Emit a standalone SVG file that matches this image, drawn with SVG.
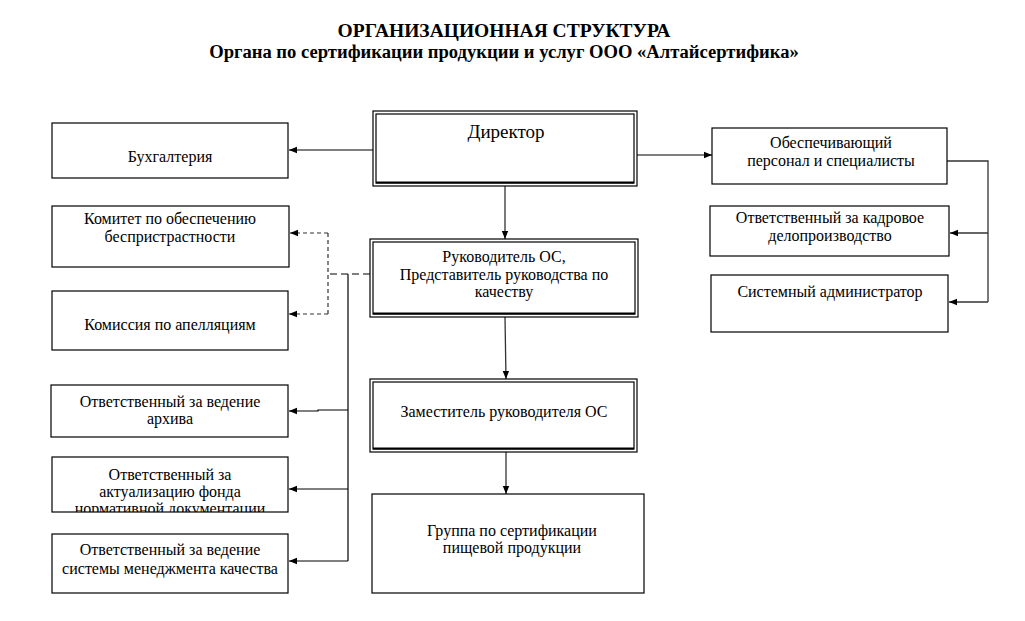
<svg xmlns="http://www.w3.org/2000/svg" width="1025" height="621" viewBox="0 0 1025 621">
<defs>
<style>
.t{font-family:"Liberation Serif","Times New Roman",serif;font-size:16px;fill:#000;text-anchor:middle}
.h{font-family:"Liberation Serif","Times New Roman",serif;font-size:18.6px;font-weight:bold;fill:#000;text-anchor:middle}
.b{fill:#fff;stroke:#000;stroke-width:1.2}
.c{fill:none;stroke:#000;stroke-width:1.2}
.g{fill:none;stroke:#333;stroke-width:1.3}
.d{fill:none;stroke:#333;stroke-width:1.2;stroke-dasharray:4,3}
.d2{fill:none;stroke:#000;stroke-width:1.2;stroke-dasharray:7,4}
</style>
<marker id="a" viewBox="0 0 10 10" refX="10" refY="5" markerWidth="8" markerHeight="8" markerUnits="userSpaceOnUse" orient="auto">
<path d="M0,1 L10,5 L0,9 z" fill="#000"/>
</marker>
<clipPath id="clipAkt"><rect x="52" y="457" width="236" height="55"/></clipPath>
</defs>
<rect width="1025" height="621" fill="#fff"/>
<g id="title">
<text class="h" x="504" y="37" style="font-size:19.5px">ОРГАНИЗАЦИОННАЯ СТРУКТУРА</text>
<text class="h" x="504" y="58">Органа по сертификации продукции и услуг ООО «Алтайсертифика»</text>
</g>
<g id="connectors">
<line class="c" x1="373" y1="150" x2="289" y2="150" marker-end="url(#a)"/>
<line class="c" x1="637" y1="155" x2="712" y2="155" marker-end="url(#a)"/>
<line class="g" x1="505" y1="186" x2="505" y2="239" marker-end="url(#a)"/>
<line class="g" x1="505" y1="317" x2="506" y2="379" marker-end="url(#a)"/>
<line class="g" x1="506" y1="452" x2="506" y2="494" marker-end="url(#a)"/>
<path class="d2" d="M370,274 L330,274"/>
<path class="d" d="M328,233 L328,314"/>
<line class="d" x1="328" y1="233" x2="290" y2="233" marker-end="url(#a)"/>
<line class="d" x1="328" y1="314" x2="289" y2="314" marker-end="url(#a)"/>
<path class="c" d="M348,274 L348,561"/>
<path class="c" d="M348,410 L318,410 L318,411 L289,411" marker-end="url(#a)"/>
<line class="c" x1="348" y1="489" x2="289" y2="489" marker-end="url(#a)"/>
<line class="c" x1="348" y1="561" x2="289" y2="561" marker-end="url(#a)"/>
<path class="g" d="M947,161 L988,161 L988,302"/>
<line class="g" x1="988" y1="233" x2="950" y2="233" marker-end="url(#a)"/>
<line class="g" x1="988" y1="302" x2="949" y2="302" marker-end="url(#a)"/>
</g>
<g id="director">
<rect class="b" x="373" y="111" width="264" height="75"/>
<rect x="376" y="114" width="258" height="69" fill="none" stroke="#000" stroke-width="1.2"/>
<line x1="376" y1="182.5" x2="634" y2="182.5" stroke="#000" stroke-width="2"/>
<text class="t" x="506" y="138" style="font-size:19px">Директор</text>
</g>
<g id="buh">
<rect class="b" x="52" y="123" width="236" height="55"/>
<text class="t" x="170" y="162">Бухгалтерия</text>
</g>
<g id="komitet">
<rect class="b" x="52" y="206" width="237" height="61"/>
<text class="t" x="170" y="224">Комитет по обеспечению</text>
<text class="t" x="170" y="242">беспристрастности</text>
</g>
<g id="komissiya">
<rect class="b" x="52" y="291" width="236" height="59"/>
<text class="t" x="170" y="330">Комиссия по апелляциям</text>
</g>
<g id="arhiv">
<rect class="b" x="51" y="385" width="237" height="52"/>
<text class="t" x="170" y="407">Ответственный за ведение</text>
<text class="t" x="170" y="424">архива</text>
</g>
<g id="aktual">
<rect class="b" x="52" y="457" width="236" height="55"/>
<g clip-path="url(#clipAkt)">
<text class="t" x="170" y="480">Ответственный за</text>
<text class="t" x="170" y="497">актуализацию фонда</text>
<text class="t" x="170" y="514">нормативной документации</text>
</g>
</g>
<g id="smk">
<rect class="b" x="52" y="534" width="236" height="59"/>
<text class="t" x="170" y="555">Ответственный за ведение</text>
<text class="t" x="170" y="574">системы менеджмента качества</text>
</g>
<g id="rukovoditel">
<rect class="b" x="370" y="239" width="268" height="78"/>
<rect x="373" y="242" width="262" height="72" fill="none" stroke="#000" stroke-width="1.2"/>
<line x1="373" y1="313.5" x2="635" y2="313.5" stroke="#000" stroke-width="2"/>
<text class="t" x="504" y="262">Руководитель ОС,</text>
<text class="t" x="504" y="280">Представитель руководства по</text>
<text class="t" x="504" y="297">качеству</text>
</g>
<g id="zamestitel">
<rect class="b" x="370" y="379" width="267" height="73"/>
<rect x="373" y="382" width="261" height="67" fill="none" stroke="#000" stroke-width="1.2"/>
<line x1="373" y1="448.5" x2="634" y2="448.5" stroke="#000" stroke-width="2"/>
<text class="t" x="504" y="417">Заместитель руководителя ОС</text>
</g>
<g id="gruppa">
<rect class="b" x="372" y="494" width="272" height="99"/>
<text class="t" x="512" y="536">Группа по сертификации</text>
<text class="t" x="512" y="553">пищевой продукции</text>
</g>
<g id="obesp">
<rect class="b" x="712" y="128" width="235" height="56"/>
<text class="t" x="831" y="148">Обеспечивающий</text>
<text class="t" x="831" y="166">персонал и специалисты</text>
</g>
<g id="kadry">
<rect class="b" x="710" y="206" width="239" height="50"/>
<text class="t" x="830" y="223">Ответственный за кадровое</text>
<text class="t" x="830" y="241">делопроизводство</text>
</g>
<g id="sysadmin">
<rect class="b" x="711" y="275" width="237" height="57"/>
<text class="t" x="830" y="297">Системный администратор</text>
</g>
</svg>
